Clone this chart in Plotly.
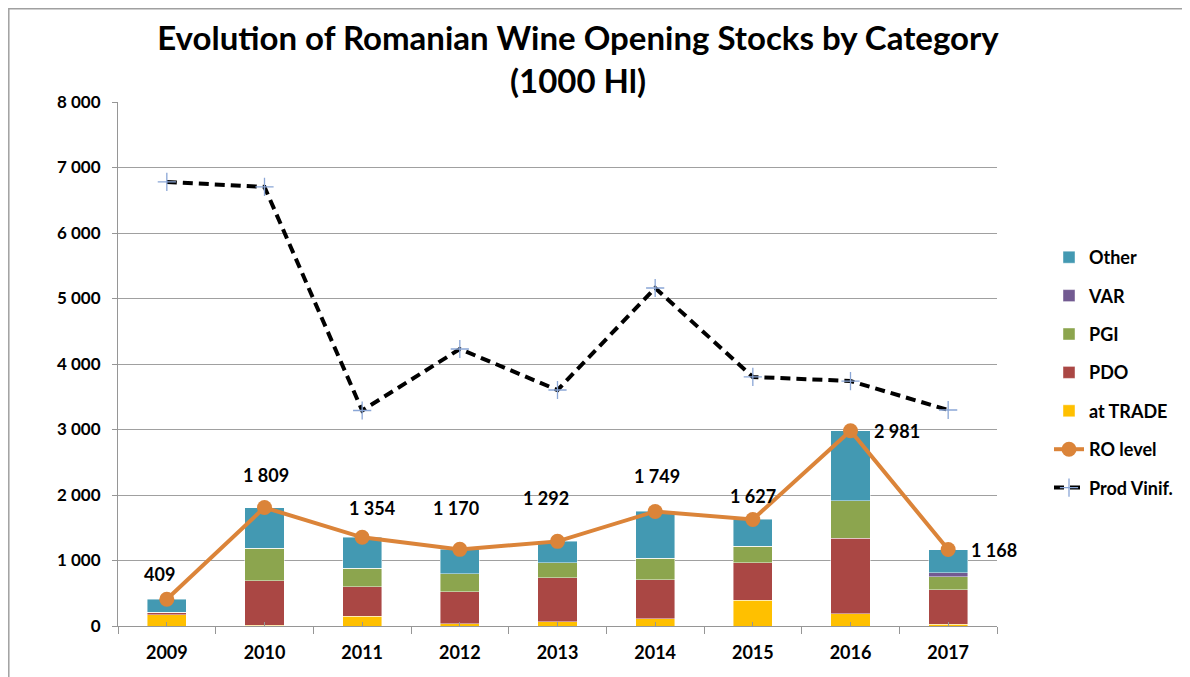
import plotly.graph_objects as go

years = ["2009", "2010", "2011", "2012", "2013", "2014", "2015", "2016", "2017"]
at_trade = [175, 10, 148, 31, 66, 107, 393, 189, 26]
pdo = [30, 684, 454, 489, 674, 597, 576, 1148, 530]
pgi = [5, 495, 281, 276, 229, 332, 245, 576, 194]
var = [0, 0, 0, 0, 0, 0, 0, 0, 61]
other = [199, 620, 471, 374, 323, 713, 413, 1068, 357]
ro_level = [409, 1809, 1354, 1170, 1292, 1749, 1627, 2981, 1168]
prod_vinif = [6780, 6703, 3290, 4229, 3603, 5160, 3802, 3740, 3298]

# label offsets (px) for RO level data labels
label_dx = [-7, 1, 10, -4, -12, 2, 0, 46, 46]
label_dy = [25, 33, 29, 41, 43, 35, 23, 0, 0]

FONT = "Lato"
ML, MR, MT, MB = 110, 201, 94, 59
PW, PH = 1190 - ML - MR, 677 - MT - MB

fig = go.Figure()

bar_series = [
    ("at TRADE", at_trade, "#FFC000", 5),
    ("PDO", pdo, "#AA4744", 4),
    ("PGI", pgi, "#8CA54E", 3),
    ("VAR", var, "#725A91", 2),
    ("Other", other, "#4399B2", 1),
]
for name, vals, col, rank in bar_series:
    fig.add_trace(go.Bar(
        x=years, y=vals, name=name, marker_color=col,
        marker_line=dict(color="rgba(255,255,255,0.55)", width=0.8),
        legendrank=rank, legendgroup=name,
    ))

fig.add_trace(go.Scatter(
    x=years, y=ro_level, name="RO level", mode="lines+markers",
    line=dict(color="#DB8439", width=4),
    marker=dict(size=15, color="#DB8439"),
    legendrank=6, legendgroup="RO level",
))
fig.add_trace(go.Scatter(
    x=years, y=prod_vinif, name="Prod Vinif.", mode="lines+markers",
    line=dict(color="black", width=4, dash="10px,6px"),
    marker=dict(symbol="cross-thin", size=13, line=dict(color="#8AA6D6", width=1.3)),
    legendrank=7, legendgroup="Prod Vinif.",
))
# invisible trace to carry the centre tick marks axis
fig.add_trace(go.Scatter(
    x=years, y=ro_level, xaxis="x2", mode="markers",
    marker=dict(opacity=0), showlegend=False, hoverinfo="skip",
))

for i, (v, dx, dy) in enumerate(zip(ro_level, label_dx, label_dy)):
    fig.add_annotation(
        x=i, y=v, xref="x", yref="y",
        text=f"{v:,}".replace(",", " "), showarrow=False,
        xshift=dx, yshift=dy,
        font=dict(family=FONT, size=18, color="black", weight="bold"),
    )

fig.add_shape(type="rect", xref="paper", yref="paper",
              x0=(0.8 - ML) / PW, x1=1.25,
              y0=-0.3, y1=(MT + PH - 0.8) / PH,
              line=dict(color="#A0A0A0", width=1.5), layer="below")

fig.update_layout(
    width=1190, height=677,
    barmode="stack", bargap=0.6,
    separators=". ",
    plot_bgcolor="white", paper_bgcolor="white",
    margin=dict(l=ML, r=MR, t=MT, b=MB, autoexpand=False),
    title=dict(
        text="<b>Evolution of Romanian Wine Opening Stocks by Category<br>(1000 Hl)</b>",
        x=570 / 1190, xanchor="center", xref="container",
        y=1 - 42 / 677, yanchor="top", yref="container",
        font=dict(family=FONT, size=33, color="black"),
    ),
    legend=dict(
        xref="container", yref="container",
        x=1041 / 1190, xanchor="left",
        y=1 - 231 / 677, yanchor="top",
        font=dict(family=FONT, size=18, color="black", weight="bold"),
        tracegroupgap=12, bgcolor="rgba(0,0,0,0)",
    ),
    xaxis=dict(
        type="category", categoryorder="array", categoryarray=years,
        range=[-0.5, 8.5], autorange=False,
        showline=True, linecolor="#969696", linewidth=1.2,
        ticks="outside", tickson="boundaries", ticklen=7, tickcolor="#969696",
        tickfont=dict(family=FONT, size=18, color="black", weight="bold"),
        ticklabelstandoff=10,
        tickangle=0, showgrid=False,
    ),
    xaxis2=dict(
        type="category", categoryorder="array", categoryarray=years,
        range=[-0.5, 8.5], autorange=False,
        overlaying="x", anchor="y", side="bottom",
        ticks="inside", ticklen=4, tickcolor="#969696", showticklabels=False,
        showline=False, showgrid=False,
    ),
    yaxis=dict(
        range=[0, 8000], dtick=1000, tickformat=",",
        showline=True, linecolor="#969696", linewidth=1.2,
        ticks="outside", ticklen=5, tickcolor="#969696",
        showgrid=True, gridcolor="#A0A0A0", gridwidth=1,
        tickfont=dict(family=FONT, size=17, color="black", weight="bold"),
        ticklabelstandoff=8,
        zeroline=False,
    ),
    showlegend=True,
)

fig.write_html("out.html")
